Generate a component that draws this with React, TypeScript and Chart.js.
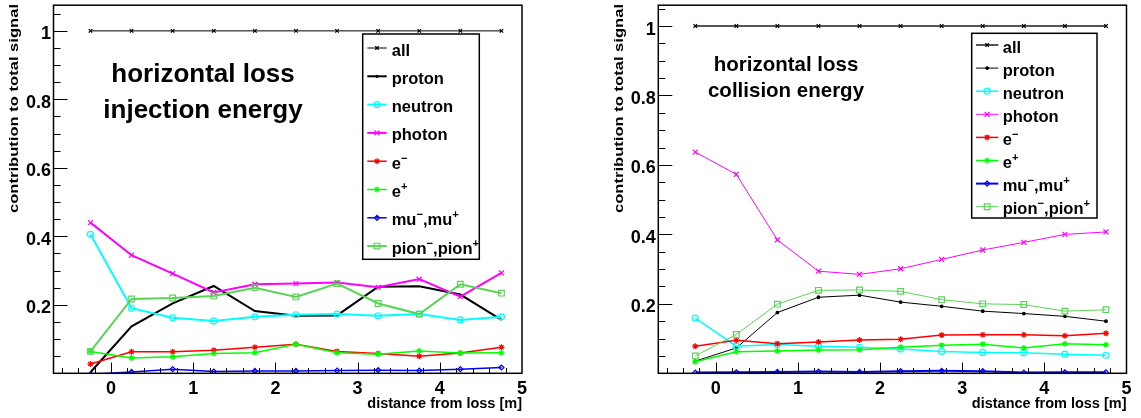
import React, { useEffect, useRef } from 'react';
import { Chart, registerables } from 'chart.js';
import { drawPoint } from 'chart.js/helpers';

Chart.register(...registerables);

// ---------- data ----------
const distances = [-0.25, 0.25, 0.75, 1.25, 1.75, 2.25, 2.75, 3.25, 3.75, 4.25, 4.75];
const xTickValues = [0, 1, 2, 3, 4, 5];
const xTickLabels = ['0', '1', '2', '3', '4', '5'];
const yTickValues = [0.2, 0.4, 0.6, 0.8, 1];
const yTickLabels = ['0.2', '0.4', '0.6', '0.8', '1'];
const xAxisTitle = 'distance from loss [m]';
const yAxisTitle = 'contribution to total signal';

// injection energy (left)
const injAll = [1, 1, 1, 1, 1, 1, 1, 1, 1, 1, 1];
const injProton = [0.003, 0.137, 0.204, 0.255, 0.182, 0.168, 0.169, 0.253, 0.254, 0.23, 0.156];
const injNeutron = [0.406, 0.19, 0.162, 0.153, 0.165, 0.171, 0.173, 0.168, 0.173, 0.156, 0.165];
const injPhoton = [0.44, 0.345, 0.291, 0.236, 0.26, 0.262, 0.265, 0.251, 0.275, 0.224, 0.293];
const injEMinus = [0.027, 0.063, 0.063, 0.067, 0.076, 0.085, 0.064, 0.058, 0.05, 0.059, 0.076];
const injEPlus = [0.064, 0.045, 0.048, 0.058, 0.06, 0.085, 0.06, 0.056, 0.065, 0.059, 0.06];
const injMu = [-0.003, 0.004, 0.012, 0.005, 0.007, 0.007, 0.008, 0.009, 0.008, 0.012, 0.017];
const injPion = [0.064, 0.217, 0.22, 0.226, 0.25, 0.223, 0.262, 0.204, 0.173, 0.26, 0.234];

// collision energy (right)
const colAll = [1, 1, 1, 1, 1, 1, 1, 1, 1, 1, 1];
const colProton = [0.035, 0.073, 0.175, 0.219, 0.225, 0.205, 0.193, 0.179, 0.172, 0.164, 0.15];
const colNeutron = [0.159, 0.078, 0.083, 0.078, 0.075, 0.07, 0.063, 0.06, 0.059, 0.055, 0.052];
const colPhoton = [0.637, 0.573, 0.384, 0.294, 0.285, 0.301, 0.328, 0.355, 0.377, 0.4, 0.407];
const colEMinus = [0.078, 0.095, 0.085, 0.09, 0.096, 0.098, 0.11, 0.111, 0.111, 0.108, 0.115];
const colEPlus = [0.033, 0.062, 0.064, 0.067, 0.068, 0.075, 0.081, 0.084, 0.073, 0.085, 0.082];
const colMu = [0.002, 0.003, 0.004, 0.005, 0.004, 0.006, 0.007, 0.006, 0.002, 0.003, 0.003];
const colPion = [0.05, 0.112, 0.199, 0.239, 0.24, 0.236, 0.212, 0.2, 0.198, 0.179, 0.183];

type Seg = { t: string; sup?: boolean };
const legendLabels: Seg[][] = [
  [{ t: 'all' }],
  [{ t: 'proton' }],
  [{ t: 'neutron' }],
  [{ t: 'photon' }],
  [{ t: 'e' }, { t: '\u2212', sup: true }],
  [{ t: 'e' }, { t: '+', sup: true }],
  [{ t: 'mu' }, { t: '\u2212', sup: true }, { t: ',mu' }, { t: '+', sup: true }],
  [{ t: 'pion' }, { t: '\u2212', sup: true }, { t: ',pion' }, { t: '+', sup: true }],
];

const injectionSeries = [injAll, injProton, injNeutron, injPhoton, injEMinus, injEPlus, injMu, injPion];
const collisionSeries = [colAll, colProton, colNeutron, colPhoton, colEMinus, colEPlus, colMu, colPion];

// ---------- styles ----------
const seriesColors = ['#000000', '#000000', '#00ffff', '#ff00ff', '#ff0000', '#00ff00', '#0000ff', '#59d454'];
const seriesMarkers = ['crossRot', 'circle', 'circle', 'crossRot', 'star', 'star', 'rectRot', 'rect'];
const markerFills = ['#000000', '#000000', 'rgba(0,0,0,0)', '#ff00ff', '#ff0000', '#00ff00', 'rgba(0,0,0,0)', 'rgba(0,0,0,0)'];
const FONT = '"Liberation Sans", Arial, Helvetica, sans-serif';

const injectionPanel = {
  key: 'inj',
  left: 0,
  width: 570,
  padding: { left: 53.5, right: 48, top: 4, bottom: 44.7 },
  yMax: 1.075,
  lineColors: ['#000000', '#000000', '#00ffff', '#ff00ff', '#ff0000', '#00ff00', '#0000ff', '#59d454'],
  lineWidths: [1, 2, 2, 2, 1.5, 1.5, 1.5, 2],
  pointRadii: [2.5, 0, 3, 3.5, 3, 3, 2.5, 4],
  titleLines: ['horizontal loss', 'injection energy'],
  titleFont: 26,
  titleX: 203,
  titleBaselines: [82, 118],
  yTitleX: 18,
  legendBox: [362.7, 34, 479.3, 259.3],
  legendRow0: 48,
  legendStep: 28.3,
  legendLine: [367.3, 386.7],
  legendTextX: 391.7,
};

const collisionPanel = {
  key: 'col',
  left: 570,
  width: 571,
  padding: { left: 88.3, right: 14.5, top: 3.3, bottom: 44.7 },
  yMax: 1.06,
  lineColors: ['#555555', '#000000', '#00ffff', '#ff00ff', '#ff0000', '#00ff00', '#0000ff', '#59d454'],
  lineWidths: [2, 1, 1.5, 1, 1.5, 1.5, 2, 1],
  pointRadii: [2.5, 1.3, 3, 3.5, 3, 3, 2.5, 4],
  titleLines: ['horizontal loss', 'collision energy'],
  titleFont: 20.5,
  titleX: 216,
  titleBaselines: [71, 97],
  yTitleX: 53,
  legendBox: [401.7, 33.3, 527, 218],
  legendRow0: 45,
  legendStep: 23.1,
  legendLine: [406, 428.3],
  legendTextX: 432.7,
};

type PanelCfg = typeof injectionPanel;

function drawRich(ctx: CanvasRenderingContext2D, segs: Seg[], x: number, y: number, size: number) {
  let cx = x;
  for (const s of segs) {
    if (s.sup) {
      const fs = size * 0.68;
      ctx.font = `bold ${fs}px ${FONT}`;
      ctx.fillText(s.t, cx, y - size * 0.42);
      cx += ctx.measureText(s.t).width;
    } else {
      ctx.font = `bold ${size}px ${FONT}`;
      ctx.fillText(s.t, cx, y);
      cx += ctx.measureText(s.t).width;
    }
  }
}

function makeOverlay(p: PanelCfg) {
  return {
    id: 'overlay_' + p.key,
    afterDraw(chart: any) {
      const ctx: CanvasRenderingContext2D = chart.ctx;
      const xs = chart.scales.x;
      const ys = chart.scales.y;
      const a = chart.chartArea;
      ctx.save();

      // frame
      ctx.strokeStyle = '#000';
      ctx.lineWidth = 1.5;
      ctx.strokeRect(a.left, a.top, a.right - a.left, a.bottom - a.top);

      // y ticks (inward)
      ctx.lineWidth = 1;
      for (let k = 1; k <= 21; k++) {
        const v = k * 0.05;
        if (v > ys.max) break;
        const y = Math.round(ys.getPixelForValue(v)) + 0.5;
        const major = k % 4 === 0;
        ctx.beginPath();
        ctx.moveTo(a.left, y);
        ctx.lineTo(a.left + (major ? 14 : 7), y);
        ctx.stroke();
      }
      // x ticks (inward)
      for (let k = -3; k <= 24; k++) {
        const v = k * 0.2;
        const x = Math.round(xs.getPixelForValue(v)) + 0.5;
        const major = k % 5 === 0;
        ctx.beginPath();
        ctx.moveTo(x, a.bottom);
        ctx.lineTo(x, a.bottom - (major ? 10.7 : 5.3));
        ctx.stroke();
      }

      ctx.fillStyle = '#000';
      // y tick labels
      ctx.font = `bold 18px ${FONT}`;
      ctx.textAlign = 'right';
      ctx.textBaseline = 'alphabetic';
      yTickValues.forEach((v, i) => {
        ctx.fillText(yTickLabels[i], a.left - 2.5, ys.getPixelForValue(v) + 8.5);
      });
      // x tick labels
      ctx.textAlign = 'center';
      xTickValues.forEach((v, i) => {
        ctx.fillText(xTickLabels[i], xs.getPixelForValue(v), 393.5);
      });
      // x title
      ctx.font = `bold 14.5px ${FONT}`;
      ctx.textAlign = 'right';
      ctx.fillText(xAxisTitle, a.right, 408);

      // y title (rotated, stretched to span)
      ctx.save();
      ctx.font = `bold 13px ${FONT}`;
      ctx.textAlign = 'left';
      const w = ctx.measureText(yAxisTitle).width;
      ctx.translate(p.yTitleX, 213);
      ctx.rotate(-Math.PI / 2);
      ctx.scale(209 / w, 1);
      ctx.fillText(yAxisTitle, 0, 0);
      ctx.restore();

      // annotation
      ctx.font = `bold ${p.titleFont}px ${FONT}`;
      ctx.textAlign = 'center';
      p.titleLines.forEach((t, i) => ctx.fillText(t, p.titleX, p.titleBaselines[i]));

      // legend
      const [bx1, by1, bx2, by2] = p.legendBox;
      ctx.fillStyle = '#fff';
      ctx.fillRect(bx1, by1, bx2 - bx1, by2 - by1);
      ctx.strokeStyle = '#000';
      ctx.lineWidth = 1.5;
      ctx.strokeRect(bx1, by1, bx2 - bx1, by2 - by1);
      ctx.textAlign = 'left';
      legendLabels.forEach((segs, i) => {
        const y = p.legendRow0 + p.legendStep * i;
        ctx.strokeStyle = p.lineColors[i];
        ctx.lineWidth = p.lineWidths[i];
        ctx.beginPath();
        ctx.moveTo(p.legendLine[0], y);
        ctx.lineTo(p.legendLine[1], y);
        ctx.stroke();
        const mx = (p.legendLine[0] + p.legendLine[1]) / 2;
        ctx.strokeStyle = seriesColors[i];
        ctx.fillStyle = markerFills[i];
        ctx.lineWidth = 1.2;
        drawPoint(ctx, {
          pointStyle: seriesMarkers[i] as any,
          radius: Math.max(p.pointRadii[i], 1),
          rotation: 0,
          borderWidth: 1.2,
        } as any, mx, y);
        ctx.fillStyle = '#000';
        drawRich(ctx, segs, p.legendTextX, y + 7.5, 16.5);
      });

      ctx.restore();
    },
  };
}

function Panel({ panel, series }: { panel: PanelCfg; series: number[][] }) {
  const ref = useRef<HTMLCanvasElement>(null);
  useEffect(() => {
    const canvas = ref.current!;
    const datasets = series.map((vals, i) => ({
      label: legendLabels[i].map((s) => s.t).join(''),
      data: distances.map((x, j) => ({ x, y: vals[j] })),
      borderColor: panel.lineColors[i],
      borderWidth: panel.lineWidths[i],
      pointStyle: seriesMarkers[i],
      pointRadius: panel.pointRadii[i],
      pointBorderColor: seriesColors[i],
      pointBackgroundColor: markerFills[i],
      pointBorderWidth: 1.2,
      fill: false,
      tension: 0,
      order: -i,
      clip: 0,
    }));
    const chart = new Chart(canvas, {
      type: 'line',
      data: { datasets: datasets as any },
      options: {
        responsive: false,
        animation: false,
        devicePixelRatio: 1,
        events: [],
        layout: { padding: panel.padding },
        scales: {
          x: { type: 'linear', min: -0.7, max: 5, display: false },
          y: { type: 'linear', min: 0, max: panel.yMax, display: false },
        },
        plugins: { legend: { display: false }, tooltip: { enabled: false } },
      },
      plugins: [makeOverlay(panel)],
    });
    return () => chart.destroy();
  }, []);
  return (
    <canvas
      ref={ref}
      width={panel.width}
      height={418}
      style={{ position: 'absolute', left: panel.left, top: 0, width: panel.width, height: 418 }}
    />
  );
}

export default function App() {
  useEffect(() => {
    document.body.style.margin = '0';
  }, []);
  return (
    <div style={{ position: 'relative', width: 1141, height: 418, background: '#ffffff', overflow: 'hidden' }}>
      <Panel panel={injectionPanel} series={injectionSeries} />
      <Panel panel={collisionPanel} series={collisionSeries} />
    </div>
  );
}
